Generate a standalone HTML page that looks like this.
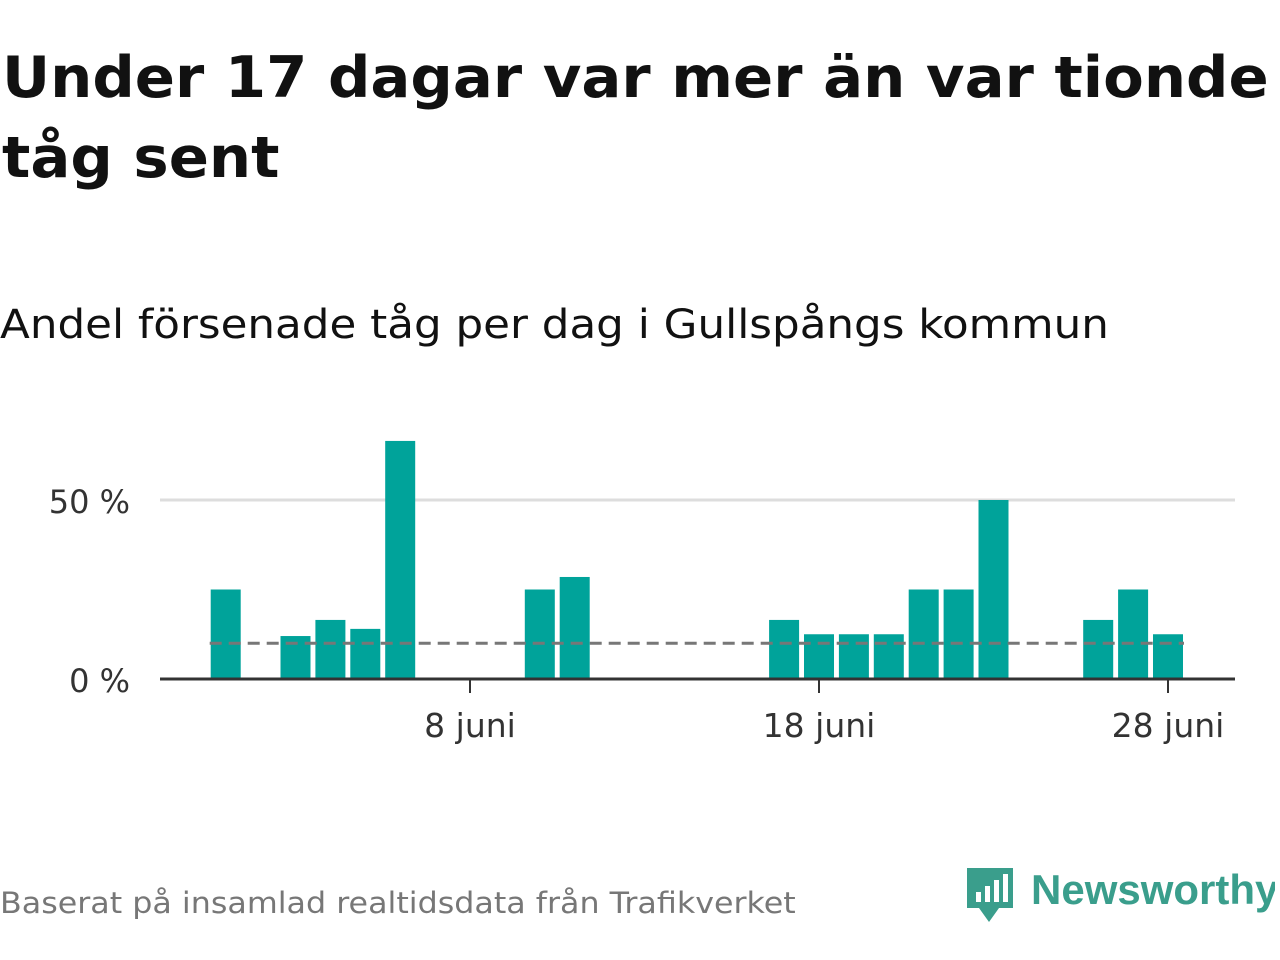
<!DOCTYPE html>
<html><head><meta charset="utf-8"><style>
body{margin:0;width:1280px;height:960px;background:#fff;font-family:"DejaVu Sans","Liberation Sans",sans-serif;overflow:hidden;position:relative}
.t{position:absolute;left:2px;top:38px;font-size:57px;font-weight:bold;line-height:80px;color:#111;transform-origin:0 0;transform:scaleX(1.04);white-space:nowrap}
.s{position:absolute;left:0;top:302px;font-size:40px;color:#111;transform-origin:0 0;transform:scaleX(1.09);white-space:nowrap}
.f{position:absolute;left:0;top:886px;font-size:29px;color:#777;transform-origin:0 0;transform:scaleX(1.094);white-space:nowrap}
.logo{position:absolute;left:965px;top:864px}
</style></head><body>
<div class="t">Under 17 dagar var mer än var tionde<br>tåg sent</div>
<div class="s">Andel försenade tåg per dag i Gullspångs kommun</div>
<svg id="c" width="1280" height="960" style="position:absolute;left:0;top:0"></svg>
<div class="f">Baserat på insamlad realtidsdata från Trafikverket</div>
<div class="logo">
<svg width="310" height="64"><path d="M2 4h46v40h-14l-10 14-10-14H2z" fill="#3a9e8c"/><rect x="11" y="28" width="5" height="10" fill="#fff"/><rect x="20" y="22" width="5" height="16" fill="#fff"/><rect x="29" y="16" width="5" height="22" fill="#fff"/><rect x="38" y="10" width="5" height="28" fill="#fff"/>
<text x="66" y="40" font-family="Liberation Sans, sans-serif" font-size="42" font-weight="bold" fill="#3a9e8c">Newsworthy</text></svg></div>
<script>
const days=[1,3,4,5,6,10,11,17,18,19,20,21,22,23,26,27,28];
const values=[25,12,16.5,14,66.5,25,28.5,16.5,12.5,12.5,12.5,25,25,50,16.5,25,12.5];
const yTicks=[0,50];
const yTickLabels=["0 %","50 %"];
const xTicks=[8,18,28];
const xTickLabels=["8 juni","18 juni","28 juni"];
const threshold=[10];
const ns="http://www.w3.org/2000/svg",svg=document.getElementById('c');
const x=d=>470+(d-8)*34.9, y=v=>679-v*3.58;
function el(t,a){const e=document.createElementNS(ns,t);for(const k in a)e.setAttribute(k,a[k]);svg.appendChild(e);return e;}
yTicks.forEach((v,i)=>{
 if(v>0){const g=el('line',{x1:160,x2:1235,y1:y(v),y2:y(v),stroke:'#ddd','stroke-width':3});
 
 }
 const t=el('text',{x:130,y:y(v)+13,'text-anchor':'end','font-size':32,fill:'#333'});t.textContent=yTickLabels[i];
 
 
});
days.forEach((d,i)=>{const r=el('rect',{x:x(d)-15,y:y(values[i]),width:30,height:679-y(values[i]),fill:'#00a39a'});
 
 });
const th=el('line',{x1:x(1)-16,x2:x(28)+16,y1:y(threshold[0]),y2:y(threshold[0]),stroke:'#777','stroke-width':3,'stroke-dasharray':'12,7'});


const ax=el('line',{x1:160,x2:1235,y1:679,y2:679,stroke:'#333','stroke-width':3});


xTicks.forEach((d,i)=>{const l=el('line',{x1:x(d),x2:x(d),y1:679,y2:693,stroke:'#333','stroke-width':2});
 
 
 const t=el('text',{x:x(d),y:737,'text-anchor':'middle','font-size':33,fill:'#333'});t.textContent=xTickLabels[i];
 
 });
</script>
</body></html>
